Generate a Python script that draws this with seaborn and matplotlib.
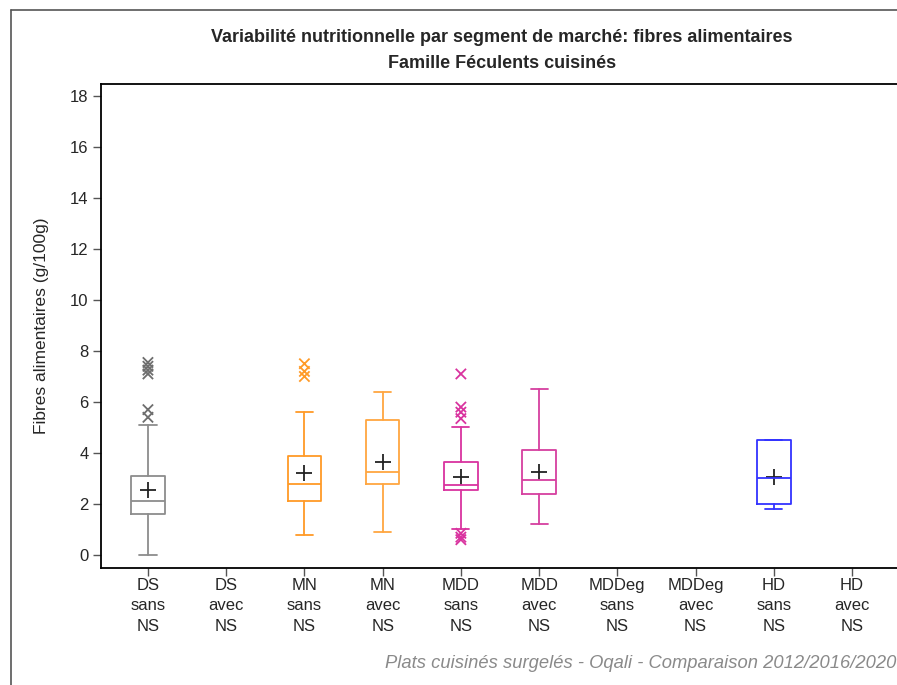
import pandas as pd
import seaborn as sns
import matplotlib.pyplot as plt
from matplotlib.lines import Line2D

# categories on the x axis
segments = ["DS\nsans\nNS", "DS\navec\nNS", "MN\nsans\nNS", "MN\navec\nNS",
            "MDD\nsans\nNS", "MDD\navec\nNS", "MDDeg\nsans\nNS", "MDDeg\navec\nNS",
            "HD\nsans\nNS", "HD\navec\nNS"]

# box summaries, only for segments that have data
box_segments = ["DS\nsans\nNS", "MN\nsans\nNS", "MN\navec\nNS",
                "MDD\nsans\nNS", "MDD\navec\nNS", "HD\nsans\nNS"]
whisker_low = [0.0, 0.8, 0.9, 1.0, 1.2, 1.8]
q1 = [1.6, 2.1, 2.8, 2.55, 2.4, 2.0]
median = [2.1, 2.8, 3.25, 2.75, 2.95, 3.0]
q3 = [3.1, 3.9, 5.3, 3.65, 4.1, 4.5]
whisker_high = [5.1, 5.6, 6.4, 5.0, 6.5, 4.5]
mean = [2.55, 3.2, 3.65, 3.05, 3.25, 3.05]
outliers = [[5.4, 5.7, 7.1, 7.25, 7.4, 7.55],
            [7.0, 7.2, 7.5],
            [],
            [0.6, 0.7, 0.85, 5.35, 5.6, 5.8, 7.1],
            [],
            []]
colors = ["#8c8c8c", "#ff9a26", "#ffa640", "#d9339f", "#d63f9f", "#3333ff"]
outlier_colors = ["#6e6e6e", "#ff9a26", "#ffa640", "#d9339f", "#d63f9f", "#3333ff"]

sns.set_theme(style="white")
plt.rcParams["font.family"] = ["Liberation Sans", "DejaVu Sans"]

fig = plt.figure(figsize=(8.97, 6.85), dpi=100)
ax = fig.add_axes([101 / 897, (685 - 568) / 685, 798 / 897, 484 / 685])

pos_of = {s: i for i, s in enumerate(segments)}
positions = [pos_of[s] for s in box_segments]

stats = []
for i, s in enumerate(box_segments):
    stats.append({"whislo": whisker_low[i], "q1": q1[i], "med": median[i],
                  "q3": q3[i], "whishi": whisker_high[i], "fliers": []})

bp = ax.bxp(stats, positions=positions, widths=0.43, capwidths=0.22,
            showfliers=False, patch_artist=False)
for i, c in enumerate(colors):
    for art in [bp["boxes"][i], bp["medians"][i]]:
        art.set_color(c)
        art.set_linewidth(1.3)
    for art in bp["whiskers"][2 * i:2 * i + 2] + bp["caps"][2 * i:2 * i + 2]:
        art.set_color(c)
        art.set_linewidth(1.3)

out_rows = []
for i, s in enumerate(box_segments):
    for v in outliers[i]:
        out_rows.append({"x": pos_of[s], "y": v, "seg": s})
out_df = pd.DataFrame(out_rows)
sns.scatterplot(data=out_df, x="x", y="y", hue="seg", marker="x", s=55,
                linewidth=1.3, palette=dict(zip(box_segments, outlier_colors)),
                legend=False, ax=ax)

mean_df = pd.DataFrame({"x": positions, "y": mean})
sns.scatterplot(data=mean_df, x="x", y="y", marker="+", s=130, color="#222222",
                linewidth=1.3, legend=False, ax=ax)

ax.set_xlim(-0.6, 9.6)
ax.set_ylim(-0.51, 18.47)
ax.set_xticks(range(len(segments)))
ax.set_xticklabels(segments, fontsize=12, linespacing=1.45)
ax.set_yticks(range(0, 19, 2))
ax.tick_params(axis="y", labelsize=12, length=6, width=1, color="#555555", left=True, pad=3)
ax.tick_params(axis="x", length=6, width=1, color="#555555", bottom=True, pad=1)
ax.set_xlabel("")
ax.set_ylabel("Fibres alimentaires (g/100g)", fontsize=12.5, labelpad=15)
for side in ["left", "bottom", "top"]:
    ax.spines[side].set_color("black")
    ax.spines[side].set_linewidth(1.3)
ax.spines["right"].set_visible(False)

fig.text(502 / 897, 1 - 38 / 685, "Variabilité nutritionnelle par segment de marché: fibres alimentaires",
         ha="center", va="center", fontsize=13, fontweight="bold")
fig.text(502 / 897, 1 - 63 / 685, "Famille Féculents cuisinés",
         ha="center", va="center", fontsize=13, fontweight="bold")
fig.text(896 / 897, 1 - 664 / 685, "Plats cuisinés surgelés - Oqali - Comparaison 2012/2016/2020",
         ha="right", va="center", fontsize=13.2, style="italic", color="#8a8a8a")

# outer frame
fig.add_artist(Line2D([11 / 897, 11 / 897], [0, 1 - 10 / 685], color="#555555", lw=1.2))
fig.add_artist(Line2D([11 / 897, 1], [1 - 10 / 685, 1 - 10 / 685], color="#555555", lw=1.2))

fig.savefig("out.png", dpi=100)
